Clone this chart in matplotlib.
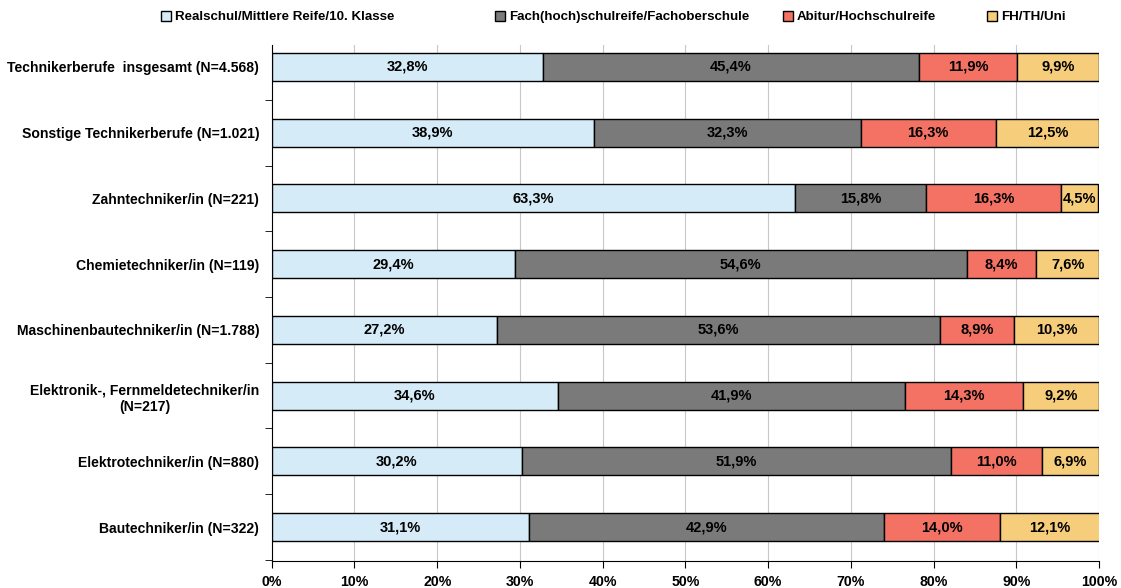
import matplotlib
matplotlib.use("Agg")
import matplotlib.pyplot as plt
from matplotlib.patches import Patch

categories = [
    "Technikerberufe  insgesamt (N=4.568)",
    "Sonstige Technikerberufe (N=1.021)",
    "Zahntechniker/in (N=221)",
    "Chemietechniker/in (N=119)",
    "Maschinenbautechniker/in (N=1.788)",
    "Elektronik-, Fernmeldetechniker/in\n(N=217)",
    "Elektrotechniker/in (N=880)",
    "Bautechniker/in (N=322)",
]
series_names = [
    "Realschul/Mittlere Reife/10. Klasse",
    "Fach(hoch)schulreife/Fachoberschule",
    "Abitur/Hochschulreife",
    "FH/TH/Uni",
]
realschul = [32.8, 38.9, 63.3, 29.4, 27.2, 34.6, 30.2, 31.1]
fachhoch = [45.4, 32.3, 15.8, 54.6, 53.6, 41.9, 51.9, 42.9]
abitur = [11.9, 16.3, 16.3, 8.4, 8.9, 14.3, 11.0, 14.0]
fhuni = [9.9, 12.5, 4.5, 7.6, 10.3, 9.2, 6.9, 12.1]
x_ticks = [0, 10, 20, 30, 40, 50, 60, 70, 80, 90, 100]

colors = ["#D5ECF8", "#7A7A7A", "#F37264", "#F6CD7B"]
series = [realschul, fachhoch, abitur, fhuni]

plt.rcParams['font.family'] = ['Liberation Sans', 'DejaVu Sans']
FS = 9.6
fig = plt.figure(figsize=(11.21, 5.88), dpi=100)
ax = fig.add_axes([0.2424, 0.0459, 0.9804 - 0.2424, 0.9235 - 0.0459])

n = len(categories)
ypos = list(range(n))
left = [0.0] * n
for vals, col, name in zip(series, colors, series_names):
    ax.barh(ypos, vals, left=left, height=0.426, color=col, edgecolor="black",
            linewidth=1.0, label=name, zorder=3)
    for i, v in enumerate(vals):
        ax.text(left[i] + v / 2, ypos[i], f"{v:.1f}%".replace(".", ","),
                ha="center", va="center", fontsize=10.5, fontweight="bold", zorder=4)
    left = [l + v for l, v in zip(left, vals)]

ax.set_ylim(n - 0.5 + 0.017, -0.335)
ax.set_xlim(0, 100)
ax.set_yticks(ypos)
ax.set_yticklabels(categories, fontsize=10.1, fontweight="bold", ha="right",
                   multialignment="center", linespacing=1.3)
ax.tick_params(axis="y", length=0, pad=9)
ax.set_yticks([i + 0.5 for i in range(0, n)], minor=True)
ax.tick_params(axis="y", which="minor", length=5, direction="out")
ax.set_xticks(x_ticks)
ax.set_xticklabels([f"{t}%" for t in x_ticks], fontsize=10.2, fontweight="bold")
ax.tick_params(axis="x", length=5, direction="out", pad=5)
ax.xaxis.grid(True, color="#C8C8C8", linewidth=0.8, zorder=0)
ax.set_axisbelow(True)
for s in ["top", "right"]:
    ax.spines[s].set_visible(False)

marker_x = [161, 495, 783, 987]
for col, name, mx in zip(colors, series_names, marker_x):
    h = Patch(facecolor=col, edgecolor="black", linewidth=1.0)
    fig.legend([h], [name], loc="center left", bbox_to_anchor=(mx / 1121, 0.971),
               frameon=False, prop={"size": FS, "weight": "bold"},
               handlelength=0.75, handleheight=0.75, handletextpad=0.3,
               borderpad=0, borderaxespad=0)

fig.savefig("out.png", dpi=100)
